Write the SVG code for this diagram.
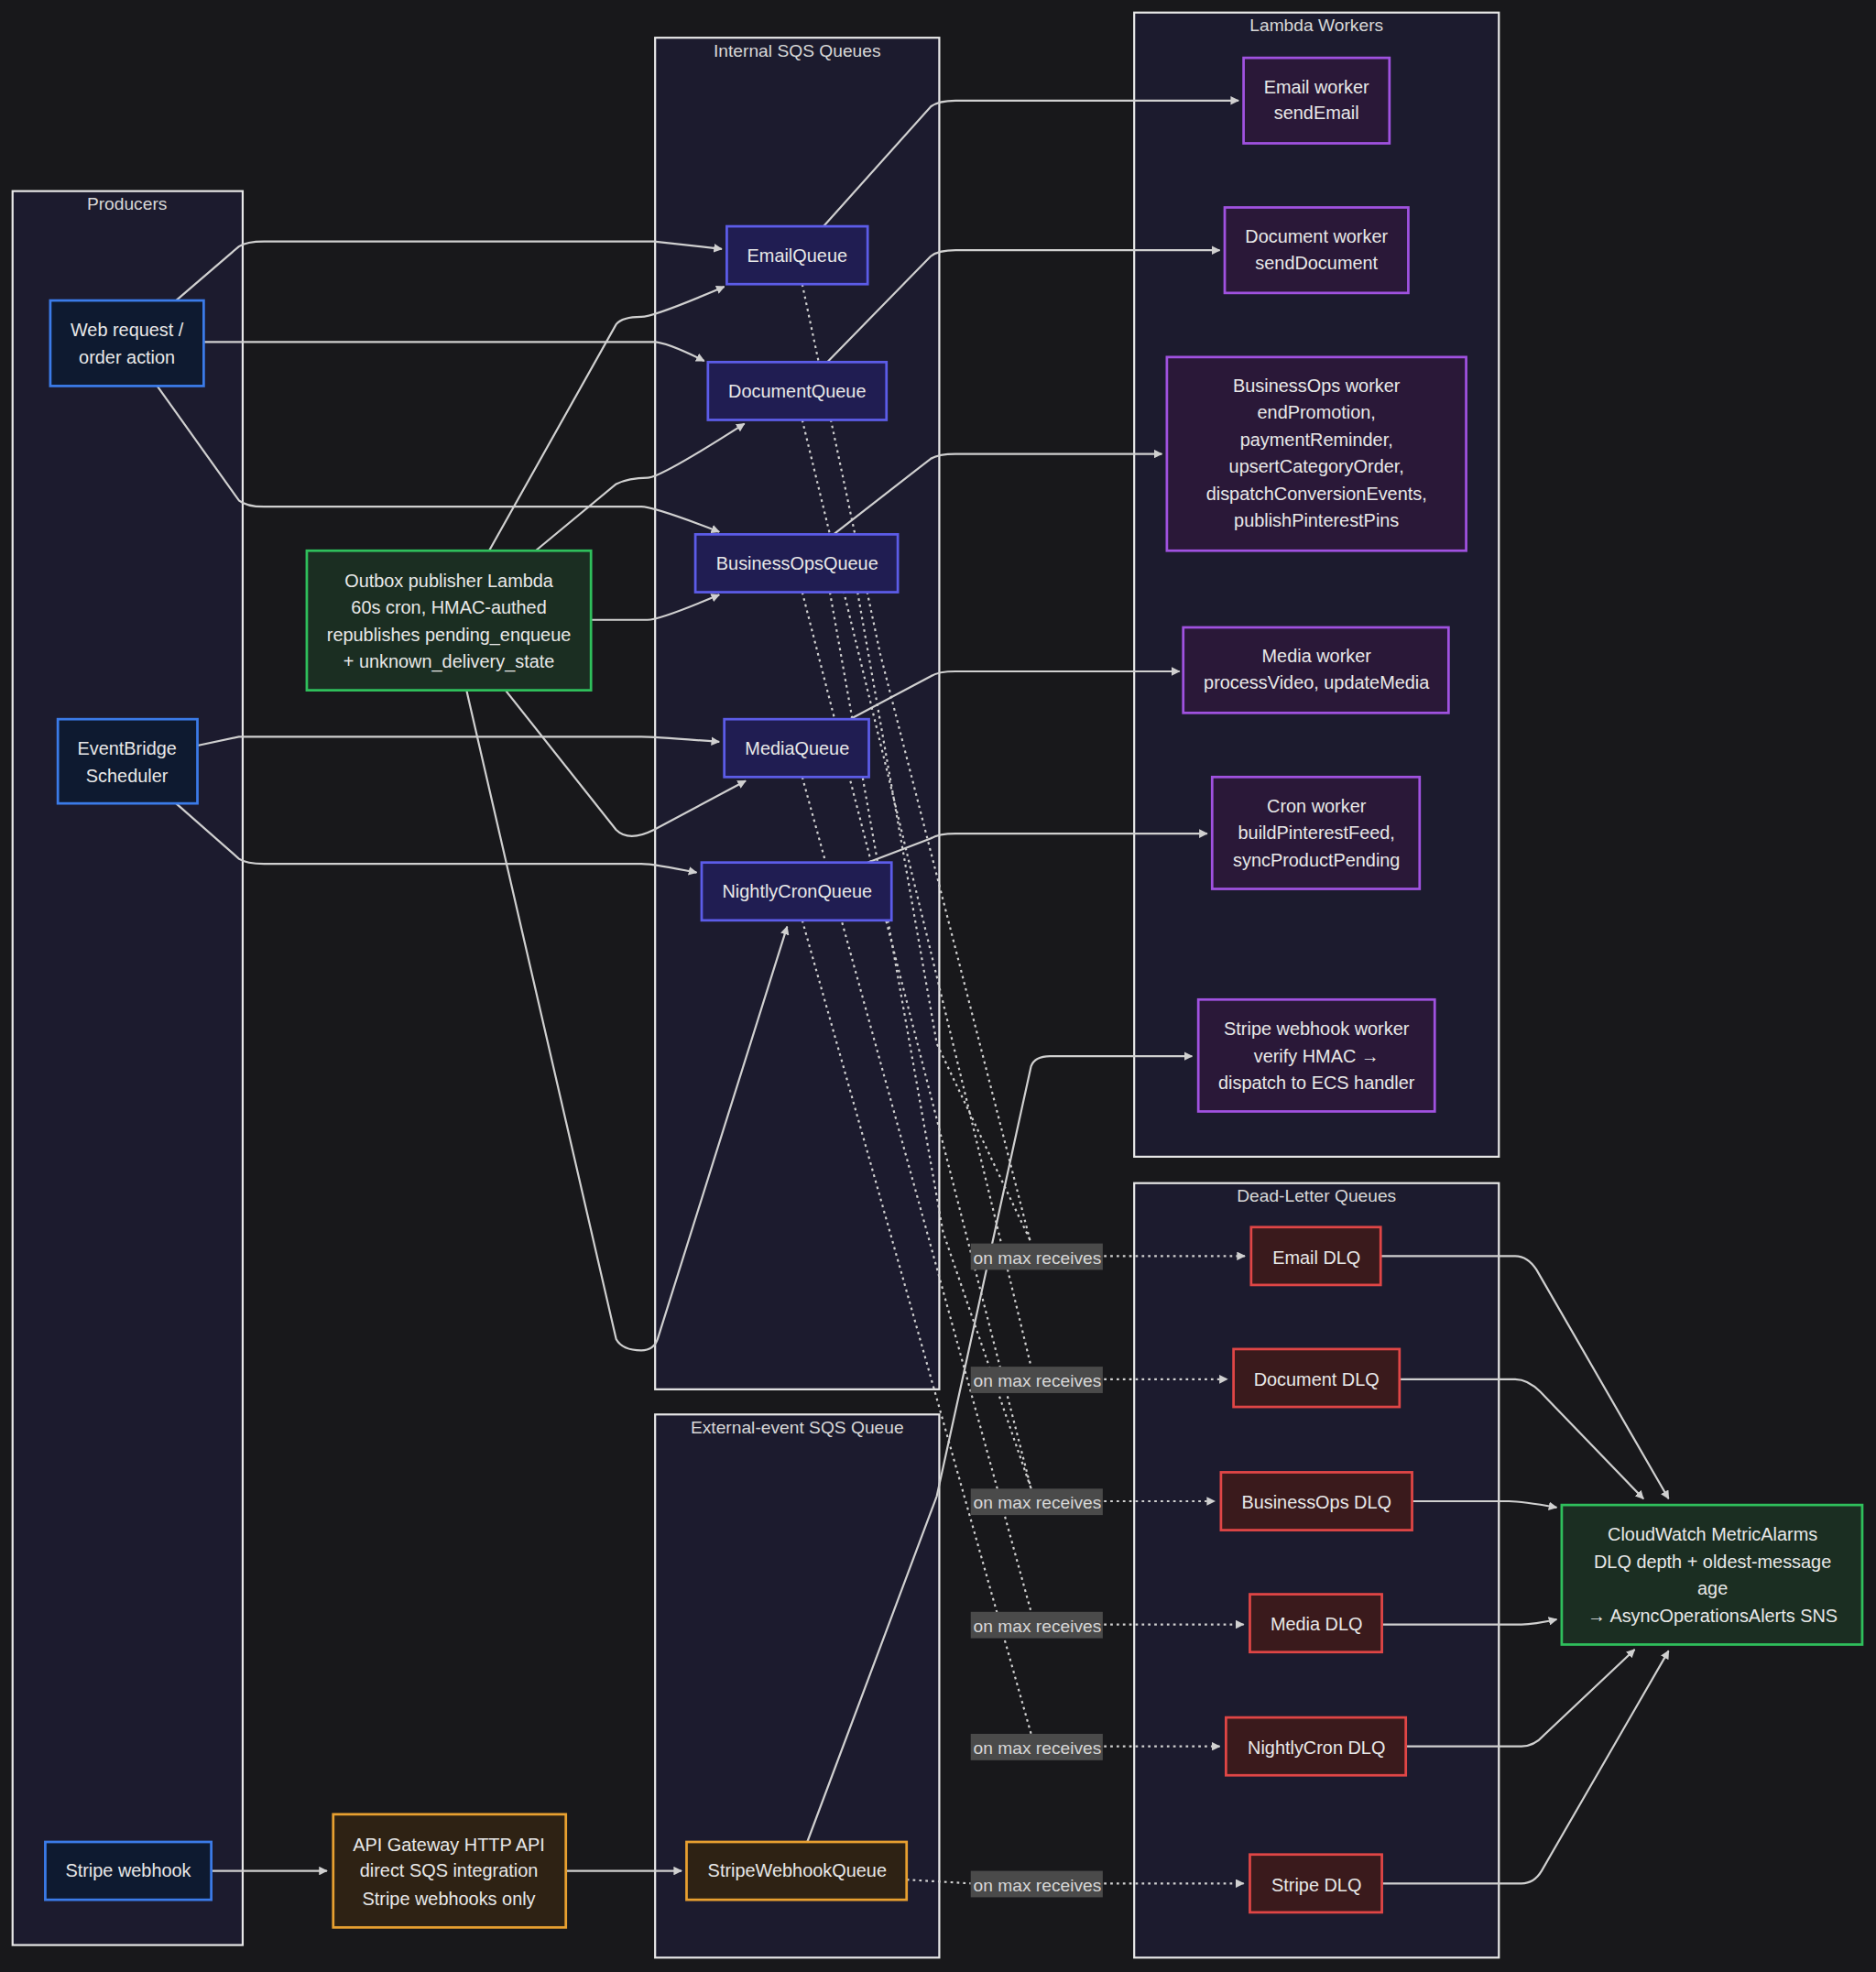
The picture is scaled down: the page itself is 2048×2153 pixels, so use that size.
<svg xmlns="http://www.w3.org/2000/svg" width="2048" height="2153" viewBox="0 0 2048 2153">
<defs>
<marker id="a" viewBox="0 0 10 10" refX="9" refY="5" markerWidth="7" markerHeight="7" orient="auto" markerUnits="userSpaceOnUse"><path d="M0,0 L10,5 L0,10 z" fill="#d0d0d0"/></marker>
<style>
text{font-family:"Liberation Sans",Arial,sans-serif;fill:#e8e8e8;text-anchor:middle;font-size:14.5px}
.ct{font-size:14px;fill:#d8d8d8}
.cl{fill:#1c1b2e;stroke:#e8e8e8;stroke-width:1.6}
.b{fill:#0e1a30;stroke:#3b7be8;stroke-width:2}
.g{fill:#1b2e22;stroke:#2fbf5c;stroke-width:2}
.o{fill:#2e2214;stroke:#e8a030;stroke-width:2}
.q{fill:#201d52;stroke:#5c5ce8;stroke-width:2}
.w{fill:#2a1838;stroke:#a052e0;stroke-width:2}
.r{fill:#3a1a1c;stroke:#e04646;stroke-width:2}
.e{fill:none;stroke:#d0d0d0;stroke-width:1.6;marker-end:url(#a)}
.d{fill:none;stroke:#d0d0d0;stroke-width:1.6;stroke-dasharray:2 3}
.dm{marker-end:url(#a)}
.lb{fill:#4a4a4a}
.lt{font-size:14px;fill:#d8d8d8}
</style>
</defs>
<rect width="2048" height="2153" fill="#18181b"/>
<g transform="scale(1.3727)">
<g id="clusters">
<rect class="cl" x="10" y="152" width="183" height="1395"/><text class="ct" x="101" y="167">Producers</text>
<rect class="cl" x="521" y="30" width="226" height="1075"/><text class="ct" x="634" y="45">Internal SQS Queues</text>
<rect class="cl" x="521" y="1125" width="226" height="432"/><text class="ct" x="634" y="1140">External-event SQS Queue</text>
<rect class="cl" x="902" y="10" width="290" height="910"/><text class="ct" x="1047" y="25">Lambda Workers</text>
<rect class="cl" x="902" y="941" width="290" height="616"/><text class="ct" x="1047" y="956">Dead-Letter Queues</text>
</g>
<g id="connectors">
<path class="e" d="M140,239 L190,196 Q196,192 210,192 L520,192 L574,198"/>
<path class="e" d="M162,272 L520,272 Q530,272 560,287"/>
<path class="e" d="M125,307 L190,398 Q196,403 210,403 L510,403 Q520,403 572,423"/>
<path class="e" d="M389,438 L490,258 Q495,252 510,252 Q520,252 576,228"/>
<path class="e" d="M426,438 L490,385 Q500,380 515,380 Q525,380 592,337"/>
<path class="e" d="M470,493 L515,493 Q525,493 572,473"/>
<path class="e" d="M402,549 L490,660 Q500,670 520,660 L593,621"/>
<path class="e" d="M371,549 L490,1065 Q495,1074 510,1074 Q520,1074 523,1065 L626,737"/>
<path class="e" d="M157,593 L190,586 L510,586 Q520,586 572,590"/>
<path class="e" d="M140,639 L190,683 Q196,687 210,687 L510,687 Q520,687 554,694"/>
<path class="e" d="M168,1488 L260,1488"/>
<path class="e" d="M450,1488 L542,1488"/>
<path class="e" d="M655,180 L740,85 Q746,80 760,80 L985,80"/>
<path class="e" d="M658,288 L740,204 Q746,199 760,199 L970,199"/>
<path class="e" d="M663,425 L740,365 Q746,361 760,361 L924,361"/>
<path class="e" d="M676,572 L740,538 Q746,534 760,534 L938,534"/>
<path class="e" d="M690,686 L740,667 Q746,663 760,663 L960,663"/>
<path class="e" d="M642,1465 L745,1190 L820,848 Q823,840 835,840 L948,840"/>
<path class="d" d="M638,226 L700,520 L820,990"/>
<path class="d" d="M638,334 L820,1087"/>
<path class="d" d="M638,471 L820,1184"/>
<path class="d" d="M638,618 L820,1282"/>
<path class="d" d="M638,732 L820,1379"/>
<path class="d" d="M658,334 L740,830 L820,1087" opacity="0"/>
<path class="d" d="M682,471 L745,830 L820,988"/>
<path class="d" d="M660,471 L750,980 L820,1184"/>
<path class="d" d="M721,1495 L772,1498"/>
<path class="d dm" d="M878,999 L990,999"/>
<path class="d dm" d="M878,1097 L976,1097"/>
<path class="d dm" d="M878,1194 L966,1194"/>
<path class="d dm" d="M878,1292 L989,1292"/>
<path class="d dm" d="M878,1389 L970,1389"/>
<path class="d dm" d="M878,1498 L989,1498"/>
<path class="e" d="M1098,999 L1205,999 Q1215,999 1222,1010 L1327,1192"/>
<path class="e" d="M1113,1097 L1205,1097 Q1215,1097 1225,1107 L1307,1192"/>
<path class="e" d="M1123,1194 L1200,1194 Q1210,1194 1238,1199"/>
<path class="e" d="M1099,1292 L1210,1292 Q1220,1292 1238,1288"/>
<path class="e" d="M1118,1389 L1210,1389 Q1220,1389 1228,1380 L1300,1312"/>
<path class="e" d="M1099,1498 L1210,1498 Q1220,1498 1226,1488 L1327,1313"/>
<g id="labels">
<rect class="lb" x="772" y="989" width="105" height="21"/><text class="lt" x="825" y="1005">on max receives</text>
<rect class="lb" x="772" y="1087" width="105" height="21"/><text class="lt" x="825" y="1103">on max receives</text>
<rect class="lb" x="772" y="1184" width="105" height="21"/><text class="lt" x="825" y="1200">on max receives</text>
<rect class="lb" x="772" y="1282" width="105" height="21"/><text class="lt" x="825" y="1298">on max receives</text>
<rect class="lb" x="772" y="1379" width="105" height="21"/><text class="lt" x="825" y="1395">on max receives</text>
<rect class="lb" x="772" y="1488" width="105" height="21"/><text class="lt" x="825" y="1504">on max receives</text>
</g>
</g>
<g id="web"><rect class="b" x="40" y="239" width="122" height="68"/><text x="101" y="267">Web request /</text><text x="101" y="289">order action</text></g>
<g id="eventbridge"><rect class="b" x="46" y="572" width="111" height="67"/><text x="101" y="600">EventBridge</text><text x="101" y="622">Scheduler</text></g>
<g id="stripe"><rect class="b" x="36" y="1465" width="132" height="46"/><text x="102" y="1493">Stripe webhook</text></g>
<g id="outbox"><rect class="g" x="244" y="438" width="226" height="111"/><text x="357" y="467">Outbox publisher Lambda</text><text x="357" y="488">60s cron, HMAC-authed</text><text x="357" y="510">republishes pending_enqueue</text><text x="357" y="531">+ unknown_delivery_state</text></g>
<g id="apigw"><rect class="o" x="265" y="1443" width="185" height="90"/><text x="357" y="1472">API Gateway HTTP API</text><text x="357" y="1493">direct SQS integration</text><text x="357" y="1515">Stripe webhooks only</text></g>
<g id="emailq"><rect class="q" x="578" y="180" width="112" height="46"/><text x="634" y="208">EmailQueue</text></g>
<g id="docq"><rect class="q" x="563" y="288" width="142" height="46"/><text x="634" y="316">DocumentQueue</text></g>
<g id="boq"><rect class="q" x="553" y="425" width="161" height="46"/><text x="634" y="453">BusinessOpsQueue</text></g>
<g id="mediaq"><rect class="q" x="576" y="572" width="115" height="46"/><text x="634" y="600">MediaQueue</text></g>
<g id="nightq"><rect class="q" x="558" y="686" width="151" height="46"/><text x="634" y="714">NightlyCronQueue</text></g>
<g id="stripeq"><rect class="o" x="546" y="1465" width="175" height="46"/><text x="634" y="1493">StripeWebhookQueue</text></g>
<g id="emailw"><rect class="w" x="989" y="46" width="116" height="68"/><text x="1047" y="74">Email worker</text><text x="1047" y="95">sendEmail</text></g>
<g id="docw"><rect class="w" x="974" y="165" width="146" height="68"/><text x="1047" y="193">Document worker</text><text x="1047" y="214">sendDocument</text></g>
<g id="bow"><rect class="w" x="928" y="284" width="238" height="154"/><text x="1047" y="312">BusinessOps worker</text><text x="1047" y="333">endPromotion,</text><text x="1047" y="355">paymentReminder,</text><text x="1047" y="376">upsertCategoryOrder,</text><text x="1047" y="398">dispatchConversionEvents,</text><text x="1047" y="419">publishPinterestPins</text></g>
<g id="mediaw"><rect class="w" x="941" y="499" width="211" height="68"/><text x="1047" y="527">Media worker</text><text x="1047" y="548">processVideo, updateMedia</text></g>
<g id="cronw"><rect class="w" x="964" y="618" width="165" height="89"/><text x="1047" y="646">Cron worker</text><text x="1047" y="667">buildPinterestFeed,</text><text x="1047" y="689">syncProductPending</text></g>
<g id="stripew"><rect class="w" x="953" y="795" width="188" height="89"/><text x="1047" y="823">Stripe webhook worker</text><text x="1047" y="845">verify HMAC →</text><text x="1047" y="866">dispatch to ECS handler</text></g>
<g id="emaildlq"><rect class="r" x="995" y="976" width="103" height="46"/><text x="1047" y="1005">Email DLQ</text></g>
<g id="docdlq"><rect class="r" x="981" y="1073" width="132" height="46"/><text x="1047" y="1102">Document DLQ</text></g>
<g id="bodlq"><rect class="r" x="971" y="1171" width="152" height="46"/><text x="1047" y="1200">BusinessOps DLQ</text></g>
<g id="mediadlq"><rect class="r" x="994" y="1268" width="105" height="46"/><text x="1047" y="1297">Media DLQ</text></g>
<g id="nightdlq"><rect class="r" x="975" y="1366" width="143" height="46"/><text x="1047" y="1395">NightlyCron DLQ</text></g>
<g id="stripedlq"><rect class="r" x="994" y="1475" width="105" height="46"/><text x="1047" y="1504">Stripe DLQ</text></g>
<g id="cloudwatch"><rect class="g" x="1242" y="1197" width="239" height="111"/><text x="1362" y="1225">CloudWatch MetricAlarms</text><text x="1362" y="1247">DLQ depth + oldest-message</text><text x="1362" y="1268">age</text><text x="1362" y="1290">→ AsyncOperationsAlerts SNS</text></g>
</g>
</svg>
